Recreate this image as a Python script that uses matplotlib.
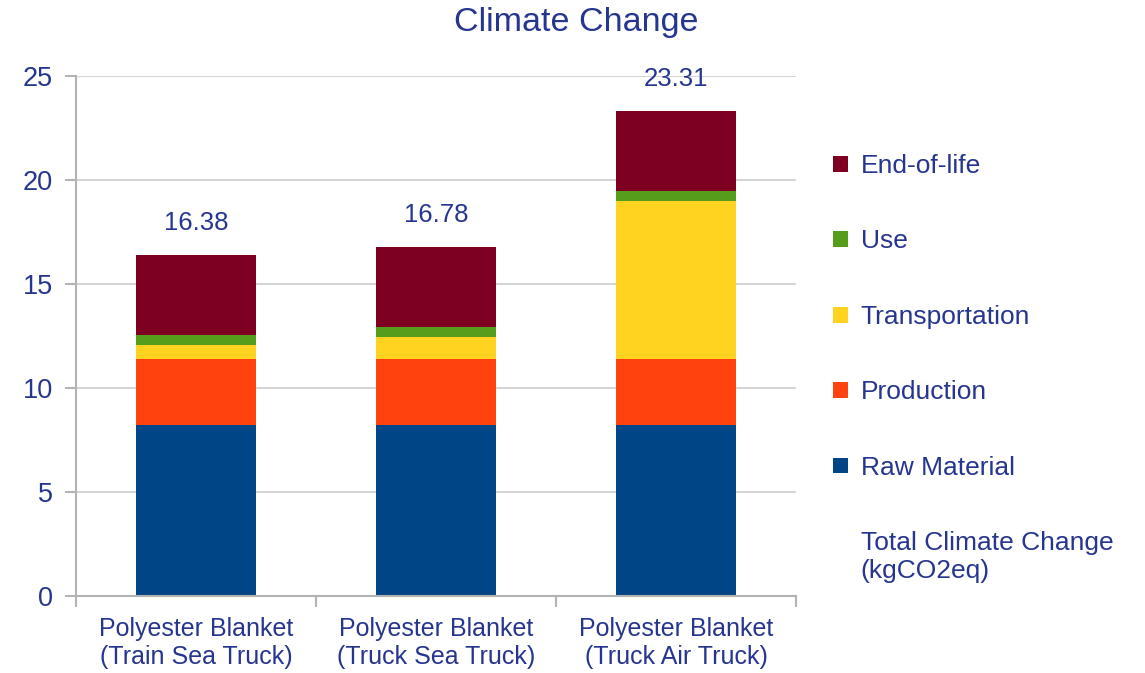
import matplotlib.pyplot as plt
import numpy as np
from matplotlib.patches import Rectangle

# Climate change per blanket scenario (kgCO2eq)
categories = ["Polyester Blanket\n(Train Sea Truck)",
              "Polyester Blanket\n(Truck Sea Truck)",
              "Polyester Blanket\n(Truck Air Truck)"]
raw_material = [8.22, 8.22, 8.22]
production = [3.17, 3.17, 3.17]
transportation = [0.67, 1.06, 7.60]
use = [0.48, 0.48, 0.48]
end_of_life = [3.84, 3.85, 3.84]
totals = [16.38, 16.78, 23.31]

series_names = ["Raw Material", "Production", "Transportation", "Use", "End-of-life"]
series_colors = ["#004586", "#ff420e", "#ffd320", "#579d1c", "#7e0021"]
text_color = "#26358f"

plt.rcParams["font.family"] = ["Liberation Sans", "DejaVu Sans"]

fig = plt.figure(figsize=(11.45, 6.73), dpi=100)
ax = fig.add_axes([76 / 1145, 77 / 673, 720 / 1145, 520 / 673])

x = np.arange(len(categories))
bottom = np.zeros(len(categories))
for vals, name, col in zip([raw_material, production, transportation, use, end_of_life],
                           series_names, series_colors):
    ax.bar(x, vals, 0.5, bottom=bottom, color=col, label=name, zorder=2)
    bottom += np.array(vals)

# total labels above bars
for xi, t in zip(x, totals):
    ax.annotate(f"{t:.2f}", (xi, t), xytext=(0, 23), textcoords="offset points",
                ha="center", va="center", fontsize=18.5, color=text_color)

ax.set_xlim(-0.5, 2.5)
ax.set_ylim(0, 25)
ax.set_yticks([0, 5, 10, 15, 20, 25])
ax.set_xticks(x)
ax.set_xticklabels(categories, fontsize=18, color=text_color, linespacing=1.2)
ax.set_xticks([-0.5, 0.5, 1.5, 2.5], minor=True)
ax.tick_params(axis="x", which="major", length=0, pad=15)
ax.tick_params(axis="x", which="minor", length=8, color="#b3b3b3", width=1.5)
ax.tick_params(axis="y", length=8, color="#b3b3b3", width=1.5, labelsize=19.5,
               labelcolor=text_color, pad=8.5)

ax.grid(axis="y", color="#d6d6d6", linewidth=1.5, zorder=0)
ax.set_axisbelow(True)
for s in ["top", "right"]:
    ax.spines[s].set_visible(False)
for s in ["left", "bottom"]:
    ax.spines[s].set_color("#b3b3b3")
    ax.spines[s].set_linewidth(1.5)

fig.text(576 / 1145, 1 - 23 / 673, "Climate Change", ha="center", va="center",
         fontsize=24.5, color=text_color)

# legend (reverse order plus an empty entry for the totals)
handles, labels = ax.get_legend_handles_labels()
handles = handles[::-1] + [Rectangle((0, 0), 1, 1, alpha=0)]
labels = labels[::-1] + ["Total Climate Change\n(kgCO2eq)"]
leg = fig.legend(handles, labels, loc="upper left",
                 bbox_to_anchor=(833 / 1145, 1 - 154 / 673),
                 frameon=False, fontsize=19, handlelength=0.55, handleheight=0.55,
                 handletextpad=0.5, labelspacing=1.95, borderaxespad=0, borderpad=0)
for t in leg.get_texts():
    t.set_color(text_color)

fig.savefig("out.png", dpi=100, facecolor="white")
